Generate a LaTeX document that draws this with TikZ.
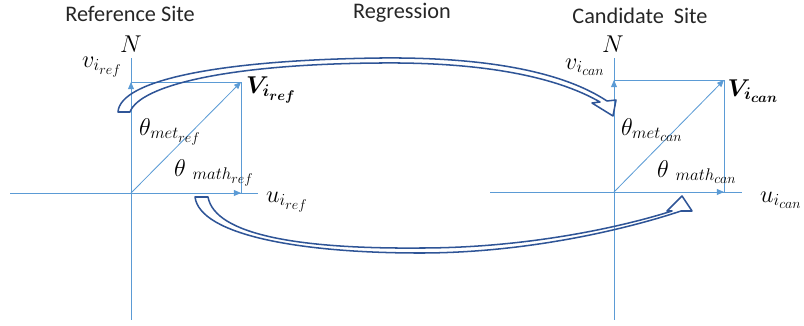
\documentclass[tikz,border=0pt]{standalone}
\usepackage{amsmath, bm}
\usepackage{fontspec}
\setsansfont{Carlito}
\DeclareMathSizes{20}{20}{15}{11.5}
\definecolor{axisblue}{RGB}{91, 155, 213}
\definecolor{bandblue}{RGB}{47, 85, 151}
\usetikzlibrary{arrows.meta}

\begin{document}
\begin{tikzpicture}[x=0.03cm, y=-0.03cm,
    axis/.style={draw=axisblue, line width=0.7pt},
    vec/.style={draw=axisblue, line width=0.7pt, -{Triangle[length=6pt, width=5pt]}},
    band/.style={draw=bandblue, line width=1.3pt, line join=round},
    title/.style={font=\sffamily\fontsize{19}{22}\selectfont, text=black!85},
    lbl/.style={font=\fontsize{20}{24}\selectfont, inner sep=1pt},
  ]
    \useasboundingbox (0,0) rectangle (804,325);

    %% headings
    \node[title] (tref) at (130, 14) {Reference Site};
    \node[title] (treg) at (402, 13) {Regression};
    \node[title] (tcan) at (640, 16) {Candidate\ \ Site};

    %% reference frame: origin (131,193)
    \coordinate (o1) at (131, 193);
    \coordinate (n1) at (131, 58);
    \coordinate (s1) at (131, 320);
    \coordinate (w1) at (10, 193);
    \coordinate (e1) at (258, 193);
    \coordinate (v1) at (131, 82);
    \coordinate (u1) at (241, 193);
    \coordinate (p1) at (241, 82);
    \draw[axis] (n1) -- (s1);
    \draw[axis] (w1) -- (e1);
    \draw[axis] (v1) -- (p1) -- (u1);
    \draw[vec] (o1) -- (v1);
    \draw[vec] (o1) -- (u1);
    \draw[vec] (o1) -- (p1);

    %% candidate frame: origin (614,192)
    \coordinate (o2) at (614, 192);
    \coordinate (n2) at (614, 58);
    \coordinate (s2) at (614, 320);
    \coordinate (w2) at (490, 192);
    \coordinate (e2) at (742, 192);
    \coordinate (v2) at (614, 80);
    \coordinate (u2) at (724, 192);
    \coordinate (p2) at (724, 80);
    \draw[axis] (n2) -- (s2);
    \draw[axis] (w2) -- (e2);
    \draw[axis] (v2) -- (p2) -- (u2);
    \draw[vec] (o2) -- (v2);
    \draw[vec] (o2) -- (u2);
    \draw[vec] (o2) -- (p2);

    %% labels, reference
    \node[lbl] (nref)  at (131, 44)  {$N$};
    \node[lbl] (vref)  at (102, 67)  {$v_{i_{ref}}$};
    \node[lbl] (Vref)  at (271, 90)  {$\bm{V_{i_{ref}}}$};
    \node[lbl] (tmref) at (170, 132) {$\theta_{met_{ref}}$};
    \node[lbl] (thref) at (214, 173) {$\theta\;{}_{math_{ref}}$};
    \node[lbl] (uref)  at (287, 202) {$u_{i_{ref}}$};

    %% labels, candidate
    \node[lbl] (ncan)  at (613, 44)  {$N$};
    \node[lbl] (vcan)  at (585, 67)  {$v_{i_{can}}$};
    \node[lbl] (Vcan)  at (753, 91)  {$\bm{V_{i_{can}}}$};
    \node[lbl] (tmcan) at (652, 130) {$\theta_{met_{can}}$};
    \node[lbl] (thcan) at (697, 172) {$\theta\;{}_{math_{can}}$};
    \node[lbl] (ucan)  at (781, 200) {$u_{i_{can}}$};

    %% curved block arrow over the top
    \draw[band] (118,112) .. controls (120,80) and (220,60) .. (380,58)
                          .. controls (480,57) and (560,70) .. (607,101)
                -- (616,100) -- (613,116) -- (592,103) -- (600,102)
                          .. controls (555,76) and (480,62) .. (380,63)
                          .. controls (230,64) and (140,85) .. (130,112) -- cycle;

    %% curved block arrow underneath
    \draw[band] (195,197) .. controls (200,235) and (300,253) .. (420,253)
                          .. controls (530,253) and (630,228) .. (681,211)
                -- (692,211) -- (682,196) -- (667,211) -- (672,211)
                          .. controls (625,226) and (530,248) .. (420,248)
                          .. controls (300,249) and (215,235) .. (208,197) -- cycle;
\end{tikzpicture}
\end{document}
